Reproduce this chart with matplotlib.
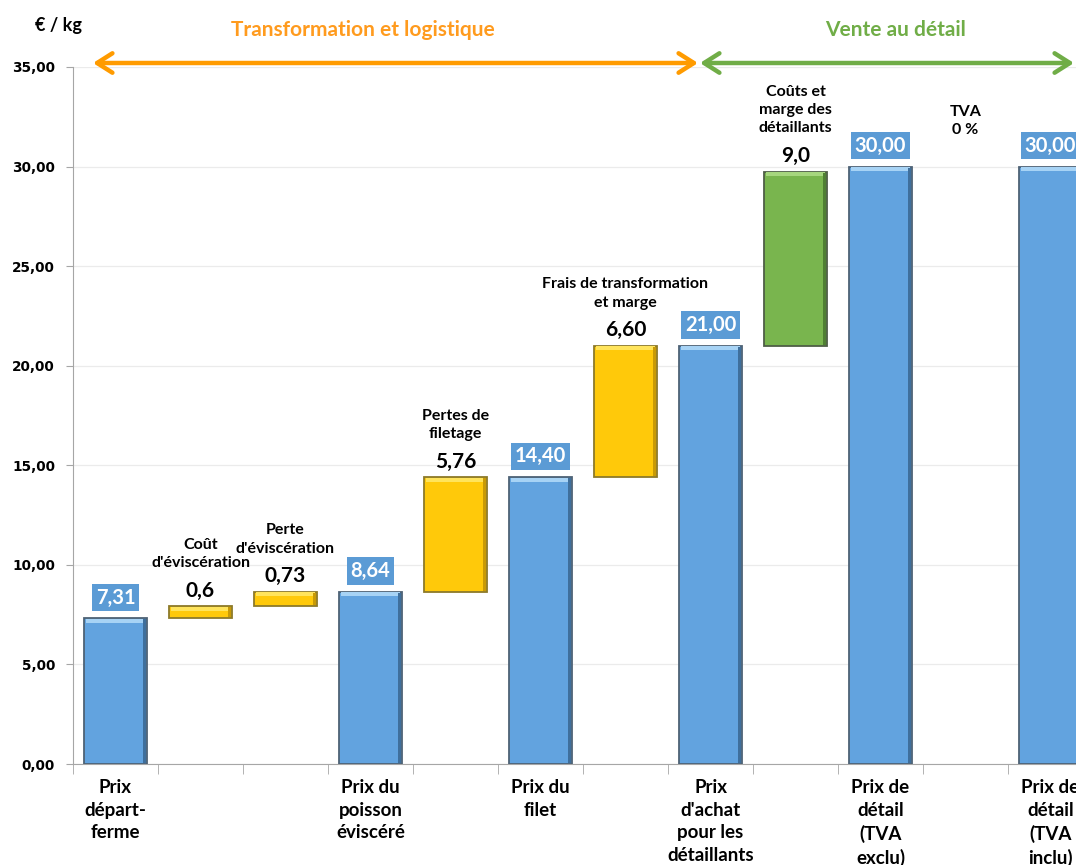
import matplotlib.pyplot as plt
from matplotlib.patches import FancyArrowPatch
from matplotlib.ticker import FuncFormatter, MultipleLocator

plt.rcParams['font.family'] = ['Lato', 'DejaVu Sans']

# waterfall steps, left to right
steps = [
    "Prix départ-ferme",
    "Coût d'éviscération",
    "Perte d'éviscération",
    "Prix du poisson éviscéré",
    "Pertes de filetage",
    "Prix du filet",
    "Frais de transformation et marge",
    "Prix d'achat pour les détaillants",
    "Coûts et marge des détaillants",
    "Prix de détail (TVA exclu)",
    "TVA",
    "Prix de détail (TVA inclu)",
]
kinds = ['total', 'delta', 'delta', 'total', 'delta', 'total',
         'delta', 'total', 'delta', 'total', 'delta', 'total']
values = [7.31, 0.60, 0.73, 8.64, 5.76, 14.40, 6.60, 21.00, 8.75, 30.00, 0.00, 30.00]
value_labels = ["7,31", "0,6", "0,73", "8,64", "5,76", "14,40",
                "6,60", "21,00", "9,0", "30,00", "", "30,00"]
delta_titles = ["", "Coût\nd'éviscération", "Perte\nd'éviscération", "",
                "Pertes de\nfiletage", "", "Frais de transformation\net marge", "",
                "Coûts et\nmarge des\ndétaillants", "", "TVA\n0 %", ""]
axis_labels = ["Prix\ndépart-\nferme", "", "", "Prix du\npoisson\néviscéré", "",
               "Prix du\nfilet", "", "Prix\nd'achat\npour les\ndétaillants", "",
               "Prix de\ndétail\n(TVA\nexclu)", "", "Prix de\ndétail\n(TVA\ninclu)"]
delta_colors = ["", "#FFC90A", "#FFC90A", "", "#FFC90A", "", "#FFC90A", "",
                "#79B54E", "", "none", ""]

BLUE = "#62A3DF"
fig = plt.figure(figsize=(10.76, 8.65), dpi=100)
ax = fig.add_axes([73 / 1076, 101 / 865, 1020 / 1076, 697 / 865])

# bottoms of the floating bars
bottoms = []
running = 0.0
for k, v in zip(kinds, values):
    if k == 'total':
        bottoms.append(0.0)
        running = v
    else:
        bottoms.append(running)
        running += v

x = list(range(len(steps)))
w = 0.73
highlight = {"#FFC90A": "#FFE45C", "#79B54E": "#A6D67E", BLUE: "#A7D3F5"}
shade = {"#FFC90A": "#C89A06", "#79B54E": "#4F7F33", BLUE: "#3F6F9C"}
edge = {"#FFC90A": "#8C7A2A", "#79B54E": "#4E5E46", BLUE: "#4E6275"}


def bevel_bar(i, height, bottom, c):
    ax.bar(i, height, bottom=bottom, width=w, color=c, edgecolor=edge[c],
           linewidth=1.3, zorder=3)
    # light top bevel and darker right side
    ax.bar(i, 0.2, bottom=bottom + height - 0.22, width=w * 0.94,
           color=highlight[c], linewidth=0, zorder=4)
    ax.bar(i + w / 2 - 0.025, height - 0.1, bottom=bottom + 0.05, width=0.04,
           color=shade[c], linewidth=0, zorder=4)


for i in x:
    if kinds[i] == 'total':
        bevel_bar(i, values[i], 0, BLUE)
        ax.annotate(value_labels[i], (i, values[i]), xytext=(0, 15),
                    textcoords='offset points', ha='center', va='center',
                    fontsize=14.5, fontweight='bold', color='white', zorder=5,
                    bbox=dict(boxstyle='square,pad=0.18', fc="#5B9BD5", ec='none'))
    else:
        c = delta_colors[i]
        if values[i] > 0:
            bevel_bar(i, values[i], bottoms[i], c)
        top = bottoms[i] + values[i]
        if values[i] == 0:
            top = values[i - 1]
        if value_labels[i]:
            ax.annotate(value_labels[i], (i, top), xytext=(0, 4),
                        textcoords='offset points', ha='center', va='bottom',
                        fontsize=15, fontweight='bold', color='black')
            off = 26
        else:
            off = 21
        ax.annotate(delta_titles[i], (i, top), xytext=(0, off),
                    textcoords='offset points', ha='center', va='bottom',
                    fontsize=11.5, fontweight='bold', color='black',
                    linespacing=1.4)

ax.set_xlim(-0.5, 11.5)
ax.set_ylim(0, 35)
ax.yaxis.set_major_locator(MultipleLocator(5))
ax.yaxis.set_major_formatter(FuncFormatter(lambda v, p: f"{v:.2f}".replace('.', ',')))
for lab in ax.get_yticklabels():
    lab.set_fontfamily('DejaVu Sans')
    lab.set_fontweight('bold')
    lab.set_fontsize(9.8)
ax.tick_params(axis='y', length=5, color="#A6A6A6", pad=8)
ax.grid(axis='y', color="#EBEBEB", linewidth=0.9, zorder=0)
ax.set_axisbelow(True)

ax.set_xticks(x)
ax.set_xticklabels(axis_labels, fontsize=13.5, fontweight='bold', linespacing=1.4, va='top')
ax.set_xticks([i - 0.5 for i in range(len(steps) + 1)], minor=True)
ax.tick_params(axis='x', which='major', length=0, pad=11)
ax.tick_params(axis='x', which='minor', length=7, color="#A6A6A6")

for s in ['top', 'right']:
    ax.spines[s].set_visible(False)
for s in ['left', 'bottom']:
    ax.spines[s].set_color("#A6A6A6")

fig.text(58 / 1076, 1 - 25 / 865, "€ / kg", ha='center', va='center',
         fontsize=13, fontweight='bold')
fig.text(363 / 1076, 1 - 30 / 865, "Transformation et logistique", ha='center',
         va='center', fontsize=15, fontweight='bold', color="#FF9B1E")
fig.text(896 / 1076, 1 - 30 / 865, "Vente au détail", ha='center',
         va='center', fontsize=15, fontweight='bold', color="#70AD47")

yarr = 1 - 63 / 865
fig.add_artist(FancyArrowPatch(
    (93 / 1076, yarr), (698 / 1076, yarr), transform=fig.transFigure,
    arrowstyle='<->,head_length=11,head_width=7', color="#FF9B00", lw=3.2,
    shrinkA=0, shrinkB=0))
fig.add_artist(FancyArrowPatch(
    (700 / 1076, yarr), (1074 / 1076, yarr), transform=fig.transFigure,
    arrowstyle='<->,head_length=11,head_width=7', color="#70AD47", lw=3.2,
    shrinkA=0, shrinkB=0))

plt.savefig('out.png', dpi=100)
